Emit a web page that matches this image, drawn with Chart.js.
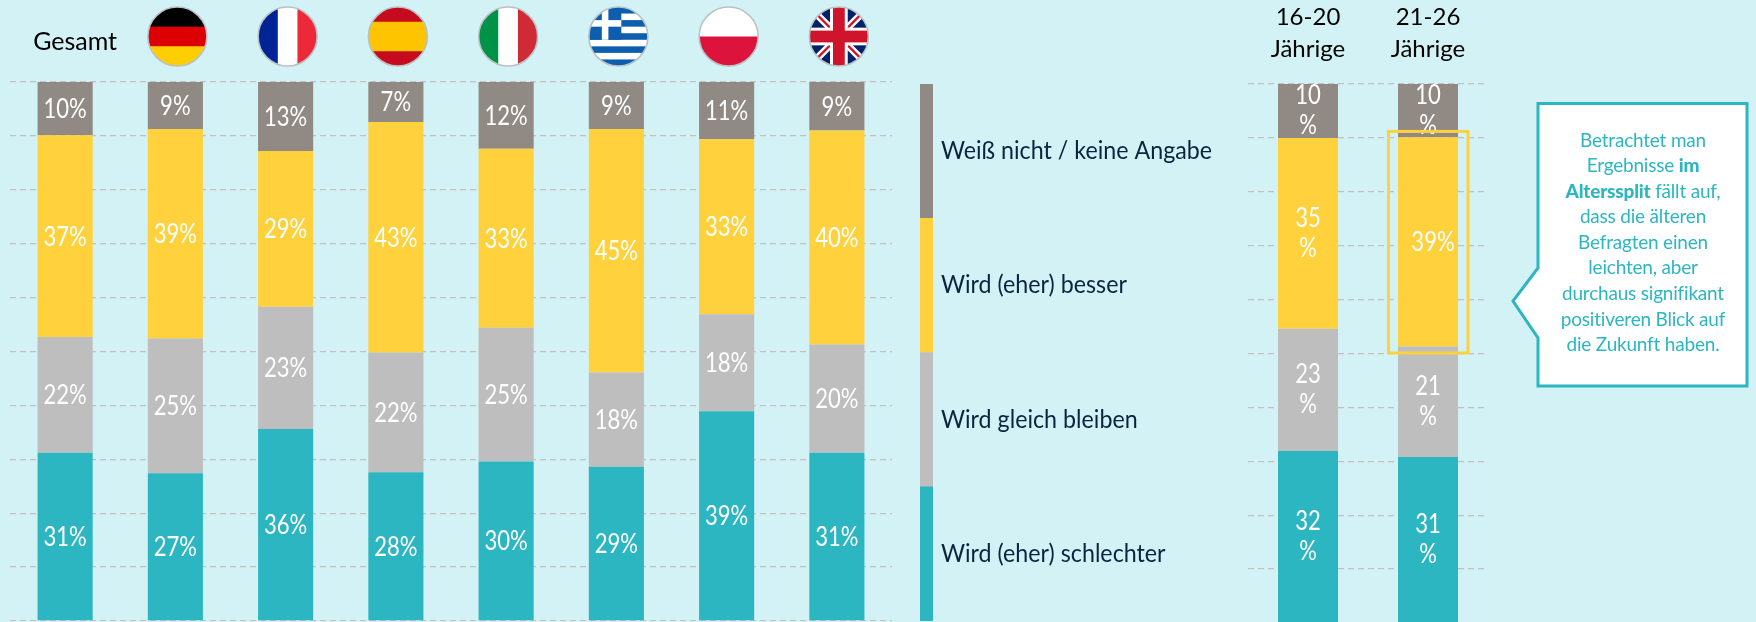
<!DOCTYPE html>
<html lang="de">
<head>
<meta charset="utf-8">
<script src="https://cdn.jsdelivr.net/npm/chart.js@4"></script>
<style>
html,body{margin:0;padding:0;width:1756px;height:622px;overflow:hidden;background:#D2F2F5;}
canvas{position:absolute;top:0;}
#callout{position:absolute;left:0;top:0;}
#calloutText{position:absolute;left:1541px;top:126.5px;width:204px;text-align:center;color:#2CB6C1;font:19px/25.6px Lato,sans-serif;letter-spacing:-.2px;}
#calloutText b{font-weight:900;}
</style>
</head>
<body>
<canvas id="countries" width="882" height="621" style="left:10px"></canvas>
<canvas id="legendBar" width="340" height="622" style="left:920px"></canvas>
<canvas id="ages" width="240" height="623" style="left:1248px"></canvas>
<svg id="callout" width="1756" height="622"><path d="M1538 103.5H1747V386H1538V338L1513 301L1538 268Z" fill="#fff" stroke="#2CB6C1" stroke-width="3"/></svg>
<div id="calloutText">Betrachtet man<br>Ergebnisse <b>im</b><br><b>Alterssplit</b> fällt auf,<br>dass die älteren<br>Befragten einen<br>leichten, aber<br>durchaus signifikant<br>positiveren Blick auf<br>die Zukunft haben.</div>
<script>
const countryCategories = ['Gesamt','Deutschland','Frankreich','Spanien','Italien','Griechenland','Polen','Großbritannien'];
const countrySchlechter = [31.2,27.4,35.6,27.6,29.6,28.6,38.9,31.2];
const countryGleich     = [21.5,25.0,22.7,22.2,24.8,17.5,18.0,20.1];
const countryBesser     = [37.4,38.9,28.9,42.8,33.2,45.2,32.5,39.7];
const countryWeissNicht = [9.9,8.7,12.8,7.4,12.4,8.7,10.6,9.0];

const ageCategories = [['16-20','Jährige'],['21-26','Jährige']];
const ageSchlechter = [31.9,30.8];
const ageGleich     = [22.7,20.5];
const ageBesser     = [35.4,38.8];
const ageWeissNicht = [10.0,9.9];

const legendLabels = ['Wird (eher) schlechter','Wird gleich bleiben','Wird (eher) besser','Weiß nicht / keine Angabe'];
const legendShares = [25,25,25,25];
const seriesColors = ['#2CB6C1','#BEBEBE','#FFD13D','#918A84'];
const gridTicks = [0,10,20,30,40,50,60,70,80,90,100];

const valueLabels = {
  id:'valueLabels',
  afterDatasetsDraw(chart,_,o){
    const ctx = chart.ctx;
    chart.data.datasets.forEach((ds,d)=>{
      chart.getDatasetMeta(d).data.forEach((el,i)=>{
        const p = el.getProps(['x','y','base'],true);
        const cy = (p.y+p.base)/2;
        const txt = Math.round(ds.data[i]);
        ctx.save();
        ctx.fillStyle='#fff';
        ctx.font='400 26px Lato, sans-serif';
        ctx.textAlign='center';
        ctx.textBaseline='middle';
        const single = !o.wrap || (o.noWrap===d+':'+i);
        const drawLine=(t,x,y)=>{ctx.save();ctx.translate(x,y);ctx.scale(.85,1);ctx.fillText(t,0,0);ctx.restore();};
        if(single) drawLine(txt+'%', p.x+(o.wrap?5:0), cy+1);
        else { drawLine(String(txt),p.x,cy-15); drawLine('%',p.x,cy+15); }
        ctx.restore();
      });
    });
  }
};

function stripesH(ctx,x,y,r,cols,fr){let t=y-r;fr.forEach((f,i)=>{ctx.fillStyle=cols[i];ctx.fillRect(x-r,t,2*r,2*r*f+.5);t+=2*r*f;});}
function stripesV(ctx,x,y,r,cols){cols.forEach((c,i)=>{ctx.fillStyle=c;ctx.fillRect(x-r+i*2*r/3,y-r,2*r/3+.5,2*r);});}
const flagPainters = [
  null,
  (c,x,y,r)=>stripesH(c,x,y,r,['#000','#DD0000','#FFCE00'],[1/3,1/3,1/3]),
  (c,x,y,r)=>stripesV(c,x,y,r,['#002395','#fff','#ED2939']),
  (c,x,y,r)=>stripesH(c,x,y,r,['#C60B1E','#FFC400','#C60B1E'],[.25,.5,.25]),
  (c,x,y,r)=>stripesV(c,x,y,r,['#009246','#fff','#CE2B37']),
  (c,x,y,r)=>{
    const h=2*r/9;
    for(let k=0;k<9;k++){c.fillStyle=k%2?'#fff':'#0D5EAF';c.fillRect(x-r,y-r+k*h,2*r,h+.5);}
    c.fillStyle='#0D5EAF';c.fillRect(x-r,y-r,r*1.1,5*h);
    c.fillStyle='#fff';c.fillRect(x-r,y-r+2*h,r*1.1,h);c.fillRect(x-r+.55*r-h/2,y-r,h,5*h);
  },
  (c,x,y,r)=>stripesH(c,x,y,r,['#fff','#DC143C'],[.5,.5]),
  (c,x,y,r)=>{
    c.fillStyle='#012169';c.fillRect(x-r,y-r,2*r,2*r);
    c.strokeStyle='#fff';c.lineWidth=r*.24;
    c.beginPath();c.moveTo(x-r,y-r);c.lineTo(x+r,y+r);c.moveTo(x+r,y-r);c.lineTo(x-r,y+r);c.stroke();
    c.strokeStyle='#D0142C';c.lineWidth=r*.08;
    c.beginPath();c.moveTo(x-r,y-r);c.lineTo(x+r,y+r);c.moveTo(x+r,y-r);c.lineTo(x-r,y+r);c.stroke();
    c.fillStyle='#fff';c.fillRect(x-r,y-r*.3,2*r,r*.6);c.fillRect(x-r*.3,y-r,r*.6,2*r);
    c.fillStyle='#D0142C';c.fillRect(x-r,y-r*.2,2*r,r*.4);c.fillRect(x-r*.2,y-r,r*.4,2*r);
  }
];
const flagsPlugin = {
  id:'flags',
  afterDraw(chart){
    const ctx=chart.ctx,sx=chart.scales.x,r=29.5,y=36.5;
    flagPainters.forEach((paint,i)=>{
      if(!paint) return;
      const x=sx.getPixelForValue(i)+2;
      ctx.save();
      ctx.beginPath();ctx.arc(x,y,r,0,Math.PI*2);ctx.clip();
      paint(ctx,x,y,r);
      ctx.restore();
      ctx.save();
      ctx.beginPath();ctx.arc(x,y,r,0,Math.PI*2);
      ctx.strokeStyle='#B9C2C4';ctx.lineWidth=1.6;ctx.stroke();
      ctx.restore();
    });
  }
};
const highlightBox = {
  id:'highlightBox',
  afterDraw(chart){
    const ctx=chart.ctx,x=chart.scales.x.getPixelForValue(1),ys=chart.scales.y;
    ctx.save();ctx.strokeStyle='#FFD13D';ctx.lineWidth=3;
    ctx.strokeRect(x-39.5,ys.getPixelForValue(91.2),79.5,ys.getPixelForValue(50.1)-ys.getPixelForValue(91.2));
    ctx.restore();
  }
};
const legendText = {
  id:'legendText',
  afterDatasetsDraw(chart){
    const ctx=chart.ctx;
    chart.data.datasets.forEach((ds,d)=>{
      const el=chart.getDatasetMeta(d).data[0];
      const p=el.getProps(['x','y','base'],true);
      ctx.save();ctx.fillStyle='#0B2340';ctx.font='25px Lato, sans-serif';
      ctx.textBaseline='middle';ctx.textAlign='left';
      ctx.translate(chart.chartArea.right+8,(p.y+p.base)/2);ctx.scale(.93,1);
      ctx.fillText(ds.label,0,0);ctx.restore();
    });
  }
};

function stackedDatasets(names,arrays){
  return arrays.map((a,i)=>({label:names[i],data:a,backgroundColor:seriesColors[i],stack:'s',borderWidth:0,categoryPercentage:1,barPercentage:.5}));
}
function yAxis(){
  return {stacked:true,min:0,max:100,afterBuildTicks(s){s.ticks=gridTicks.map(v=>({value:v}));},
    afterFit(s){s.width=0;},
    border:{display:false,dash:[6,4]},
    grid:{color:'#C4C0C0',lineWidth:1.3,drawTicks:false},
    ticks:{display:false}};
}
function base(headerH,tickFont,tickOpts){
  return {animation:false,responsive:false,events:[],layout:{padding:0,autoPadding:false},
    plugins:{legend:{display:false},tooltip:{enabled:false},title:{display:false}},
    scales:{
      x:{stacked:true,position:'top',afterFit(s){s.height=headerH;s.paddingLeft=0;s.paddingRight=0;},border:{display:false},grid:{display:false},
         ticks:Object.assign({color:'#000',font:tickFont,maxRotation:0,minRotation:0,autoSkip:false},tickOpts)},
      y:yAxis()
    }};
}
Chart.defaults.font.family='Lato, sans-serif';

const cOpt = base(82,{size:25},{padding:17,labelOffset:10,callback(v,i){return i===0?countryCategories[0]:'';}});
cOpt.plugins.valueLabels={};
new Chart(document.getElementById('countries'),{type:'bar',
  data:{labels:countryCategories,datasets:stackedDatasets(legendLabels,[countrySchlechter,countryGleich,countryBesser,countryWeissNicht])},
  options:cOpt,plugins:[valueLabels,flagsPlugin]});

const aOpt = base(84,{size:24,lineHeight:1.36},{padding:10});
aOpt.plugins.valueLabels={wrap:true,noWrap:'2:1'};
new Chart(document.getElementById('ages'),{type:'bar',
  data:{labels:ageCategories,datasets:stackedDatasets(legendLabels,[ageSchlechter,ageGleich,ageBesser,ageWeissNicht])},
  options:aOpt,plugins:[valueLabels,highlightBox]});

new Chart(document.getElementById('legendBar'),{type:'bar',
  data:{labels:['Legende'],datasets:legendLabels.map((l,i)=>({label:l,data:[legendShares[i]],backgroundColor:seriesColors[i],stack:'s',borderWidth:0,categoryPercentage:1,barPercentage:1}))},
  options:{animation:false,responsive:false,events:[],
    layout:{padding:{top:84,right:327,bottom:1}},
    plugins:{legend:{display:false},tooltip:{enabled:false}},
    scales:{x:{display:false,stacked:true},y:{display:false,stacked:true,min:0,max:100}}},
  plugins:[legendText]});
</script>
</body>
</html>
